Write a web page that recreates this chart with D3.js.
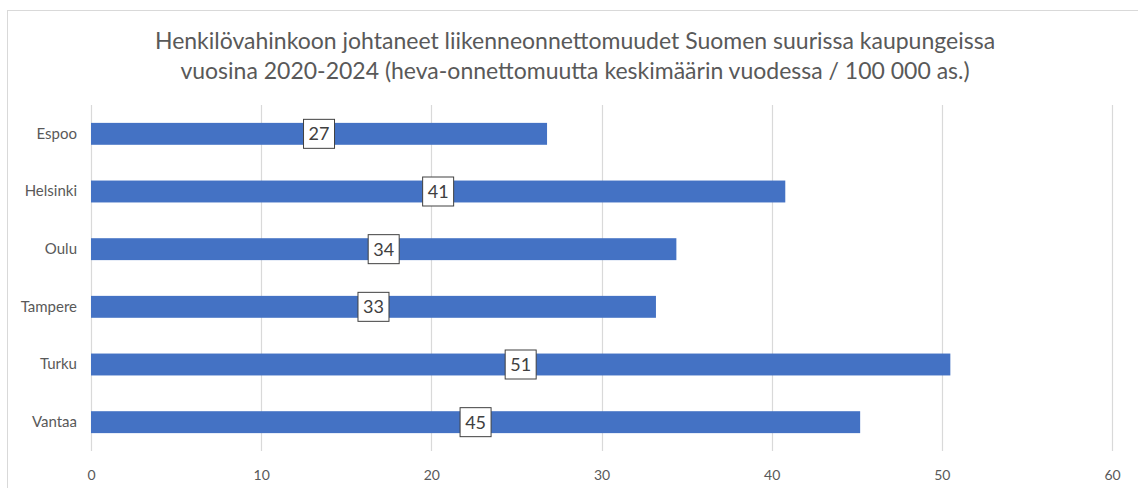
<!DOCTYPE html>
<html>
<head>
<meta charset="utf-8">
<script src="https://cdn.jsdelivr.net/npm/d3@7"></script>
<style>
  body { margin: 0; background: #fff; }
  text { font-family: Lato, "Open Sans", sans-serif; }
</style>
</head>
<body>
<div class="chart"></div>
<script>
var cities = ["Espoo", "Helsinki", "Oulu", "Tampere", "Turku", "Vantaa"];
var values = [26.8, 40.8, 34.4, 33.2, 50.5, 45.2];
var xTicks = [0, 10, 20, 30, 40, 50, 60];
var titleLines = [
  "Henkilövahinkoon johtaneet liikenneonnettomuudet Suomen suurissa kaupungeissa",
  "vuosina 2020-2024 (heva-onnettomuutta keskimäärin vuodessa / 100 000 as.)"
];

function loadChart(){
  var width = 1138, height = 488;
  var plot = { left: 91, right: 1112, top: 105, bottom: 451 };

  var svg = d3.select(".chart").append("svg")
              .attr("width", width)
              .attr("height", height);

  // chart border
  svg.append("rect")
     .attr("x", 7.5).attr("y", 10.5)
     .attr("width", width).attr("height", height)
     .attr("fill", "none")
     .attr("stroke", "#d9d9d9");

  svg.selectAll("text.title")
     .data(titleLines)
     .enter().append("text")
     .attr("class", "title")
     .attr("x", 575)
     .attr("y", function(d, i){ return 49 + i * 30; })
     .attr("text-anchor", "middle")
     .style("font-size", "23px")
     .style("fill", "#595959")
     .text(function(d){ return d; });

  var x = d3.scaleLinear().domain([0, 60]).range([plot.left, plot.right]);
  var y = d3.scaleBand().domain(cities).range([plot.top, plot.bottom]).paddingInner(0.62).paddingOuter(0.31);

  // gridlines
  svg.append("g")
     .selectAll("line")
     .data(xTicks)
     .enter().append("line")
     .attr("x1", function(d){ return Math.round(x(d)) + 0.5; })
     .attr("x2", function(d){ return Math.round(x(d)) + 0.5; })
     .attr("y1", plot.top)
     .attr("y2", plot.bottom)
     .attr("stroke", "#d9d9d9")
     .attr("stroke-width", 1.2);

  // x axis labels
  var xAxis = d3.axisBottom(x).tickValues(xTicks).tickSize(0).tickPadding(0);
  var gx = svg.append("g")
     .attr("transform", "translate(0," + (plot.bottom + 29) + ")")
     .call(xAxis);
  gx.select(".domain").remove();
  gx.selectAll("text")
    .style("font-size", "14px")
    .style("fill", "#595959")
    .attr("dy", "0");

  // y axis labels
  var yAxis = d3.axisLeft(y).tickSize(0).tickPadding(14);
  var gy = svg.append("g")
     .attr("transform", "translate(" + plot.left + ",0)")
     .call(yAxis);
  gy.select(".domain").remove();
  gy.selectAll("text")
    .style("font-size", "15px")
    .style("fill", "#595959");

  var rows = cities.map(function(c, i){ return { city: c, value: values[i] }; });

  svg.append("g")
     .selectAll("rect")
     .data(rows)
     .enter().append("rect")
     .attr("x", x(0))
     .attr("y", function(d){ return y(d.city); })
     .attr("width", function(d){ return x(d.value) - x(0); })
     .attr("height", y.bandwidth())
     .style("fill", "#4472c4");

  // data labels in boxes at bar centre
  var labels = svg.append("g")
     .selectAll("g")
     .data(rows)
     .enter().append("g")
     .attr("transform", function(d){
       return "translate(" + x(d.value / 2) + "," + (y(d.city) + y.bandwidth() / 2) + ")";
     });

  labels.append("rect")
     .attr("x", -15.5).attr("y", -14.5)
     .attr("width", 31).attr("height", 29)
     .attr("fill", "#fff")
     .attr("stroke", "#404040")
     .attr("stroke-width", 1);

  labels.append("text")
     .attr("text-anchor", "middle")
     .attr("dy", "0.36em")
     .style("font-size", "18px")
     .style("fill", "#404040")
     .text(function(d){ return Math.round(d.value); });
}

loadChart();
</script>
</body>
</html>
